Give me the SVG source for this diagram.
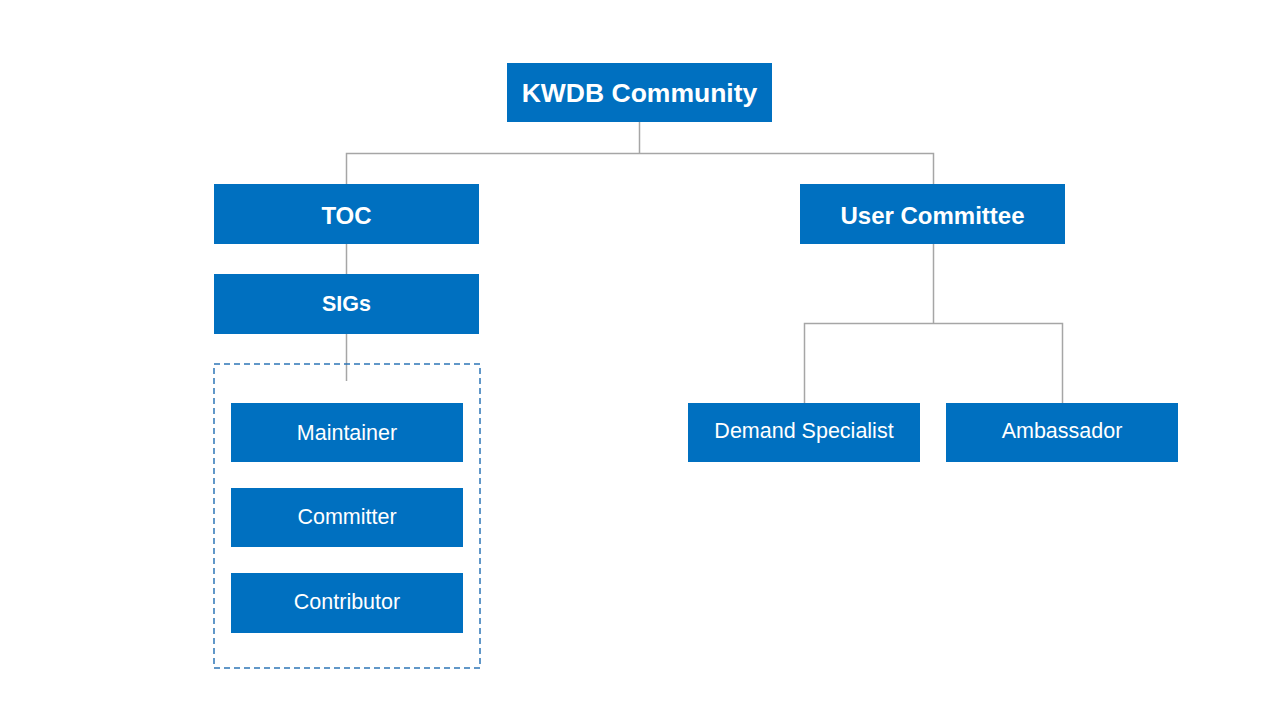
<svg xmlns="http://www.w3.org/2000/svg" width="1280" height="720" viewBox="0 0 1280 720">
<style>
.box{fill:#0070C0}
.t{fill:#fff;font-family:"Liberation Sans",Arial,sans-serif;text-anchor:middle;dominant-baseline:central}
.b{font-weight:bold}
.r{font-size:21.5px}
.ln{stroke:#A6A6A6;stroke-width:1.5;fill:none}
</style>
<rect width="1280" height="720" fill="#fff"/>
<g id="connectors">
<path class="ln" d="M639.5 122V153.5M346.5 184V153.5H933.5V184"/>
<path class="ln" d="M346.5 244V274"/>
<path class="ln" d="M346.5 334V381"/>
<path class="ln" d="M933.5 244V323.5M804.5 403V323.5H1062.5V403"/>
</g>
<g id="sig-members">
<rect x="214" y="364" width="266" height="304" fill="none" stroke="#2E75B6" stroke-width="1.5" stroke-dasharray="6,4"/>
</g>
<g id="kwdb"><rect class="box" x="507" y="63" width="265" height="59"/><text class="t b" x="639.5" y="93" font-size="26.5">KWDB Community</text></g>
<g id="toc"><rect class="box" x="214" y="184" width="265" height="60"/><text class="t b" x="346.5" y="215" font-size="24">TOC</text></g>
<g id="sigs"><rect class="box" x="214" y="274" width="265" height="60"/><text class="t b" x="346.5" y="304" font-size="21.5">SIGs</text></g>
<g id="user-committee"><rect class="box" x="800" y="184" width="265" height="60"/><text class="t b" x="932.5" y="215" font-size="24">User Committee</text></g>
<g id="maintainer"><rect class="box" x="231" y="403" width="232" height="59"/><text class="t r" x="347" y="433">Maintainer</text></g>
<g id="committer"><rect class="box" x="231" y="488" width="232" height="59"/><text class="t r" x="347" y="517">Committer</text></g>
<g id="contributor"><rect class="box" x="231" y="573" width="232" height="60"/><text class="t r" x="347" y="602">Contributor</text></g>
<g id="demand-specialist"><rect class="box" x="688" y="403" width="232" height="59"/><text class="t r" x="804" y="431">Demand Specialist</text></g>
<g id="ambassador"><rect class="box" x="946" y="403" width="232" height="59"/><text class="t r" x="1062" y="431">Ambassador</text></g>
</svg>
